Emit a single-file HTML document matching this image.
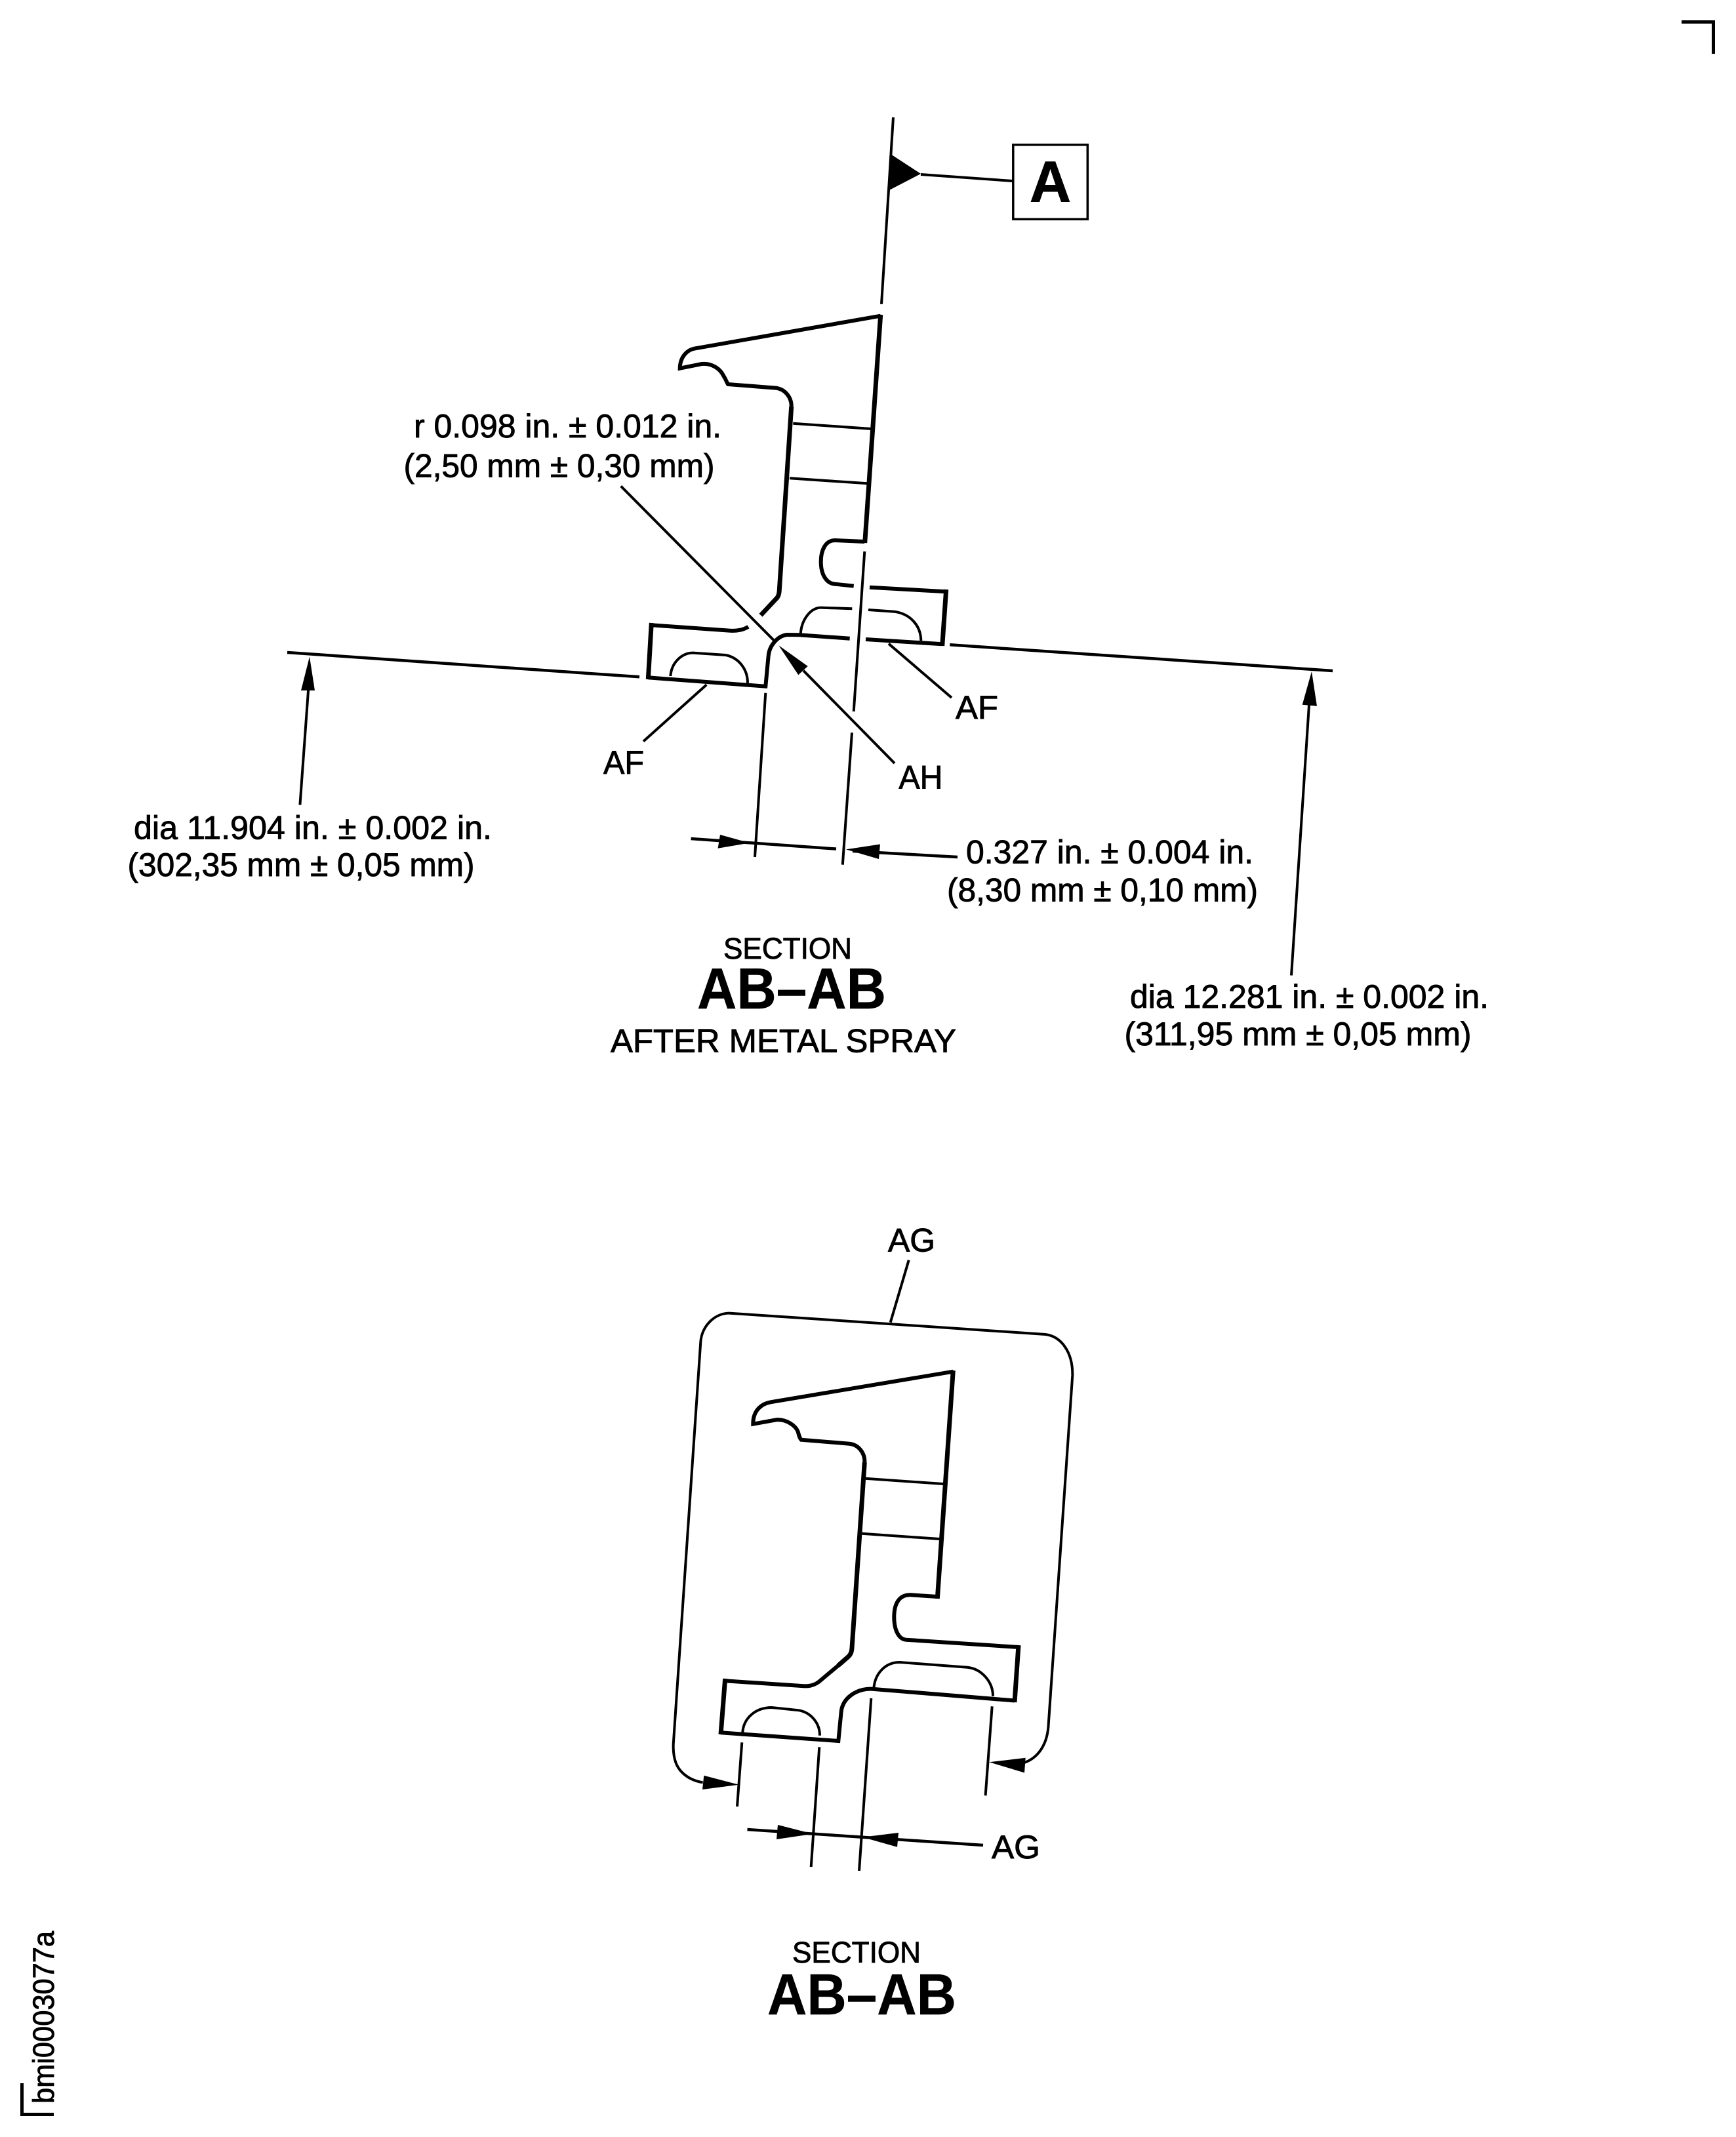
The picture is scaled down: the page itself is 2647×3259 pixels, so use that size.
<!DOCTYPE html>
<html><head><meta charset="utf-8"><style>
html,body{margin:0;padding:0;background:#fff}
svg{display:block}
text{font-family:"Liberation Sans",sans-serif;fill:#000;stroke:#000;stroke-width:.9px}
.t{font-size:50px}
.s{font-size:45px}
.b{font-size:88px;font-weight:bold;stroke-width:.5px}
.p{fill:none;stroke:#000;stroke-width:6;stroke-linejoin:miter;stroke-linecap:butt}
.k{fill:none;stroke:#000;stroke-width:7;stroke-linecap:butt}
.n{fill:none;stroke:#000;stroke-width:4;stroke-linecap:butt}
.d{fill:none;stroke:#000;stroke-width:4.500;stroke-linecap:butt}
.a{fill:#000;stroke:none}
</style></head><body>
<svg xmlns="http://www.w3.org/2000/svg" width="2647" height="3259" viewBox="0 0 2647 3259">
<rect width="2647" height="3259" fill="#fff"/>
<path d="M2564 33.500H2612.500V82" fill="none" stroke="#000" stroke-width="5"/>
<path d="M33.500 3177V3224.500H82" fill="none" stroke="#000" stroke-width="5"/>
<text transform="translate(82 3208) rotate(-90)" font-size="45" textLength="263" lengthAdjust="spacingAndGlyphs">bmi0003077a</text>

<!-- upper section -->
<path class="n" d="M1362 179L1344 463.800"/>
<path class="a" d="M1358 235L1354 291L1404 265Z"/>
<path class="n" d="M1404 266L1544 276"/>
<rect x="1544.800" y="220.800" width="113.500" height="113.500" fill="none" stroke="#000" stroke-width="3.500"/>
<text x="1570" y="307.700" font-size="88" font-weight="bold" textLength="63" lengthAdjust="spacingAndGlyphs">A</text>

<path class="p" d="M1342.700 481.700L1058.300 531.700C1049 533.500 1037 543 1036.700 561.700L1070 555C1085 553.500 1098 562 1103.300 573.300C1107 579 1108 583 1110 586L1183.300 591.700C1197 593.500 1207 606 1206.700 620"/>
<path class="k" d="M1342.700 480L1318.700 828"/>
<path class="p" d="M1318.300 826L1273.300 824C1258 824 1251.700 840 1251.700 856.700C1251.700 876 1260 890 1273.300 890.700L1301.700 893.700"/>
<path class="k" d="M1206.700 620L1188.300 900C1188 907 1186 911 1183.300 913.300L1160 938.300"/>
<path class="p" d="M1326 895.700L1442.700 902.300"/>
<path class="k" d="M1442.700 899L1436.700 985"/>
<path class="p" d="M1436.700 982.300L1320 975"/>
<path class="p" d="M1295.700 973.700L1218.300 968.300L1200 968C1185 970 1173 985 1171.700 1000L1167.300 1046.700L988.300 1033.300"/>
<path class="k" d="M988.300 1036L993.300 950"/>
<path class="p" d="M993.300 953.300L1113.300 961.700C1122 962.500 1133 961 1141 955.700"/>
<path class="n" d="M1209.300 645.700L1328.300 654M1204 729.300L1322.700 737.300"/>
<path class="n" d="M1220.700 967C1222 945 1236 926 1253.300 926.700L1299.300 928.300"/>
<path class="n" d="M1324 930L1363.300 932.700C1388 936 1404 954 1404.300 977"/>
<path class="n" d="M1022.300 1031C1024 1010 1040 995 1058.300 995.700L1106.700 999C1126 1003 1140 1020 1140 1041.700"/>
<path class="n" d="M1318.300 841L1301.700 1085M1299 1117.400L1284.800 1318.700M1167.300 1056.700L1151 1307"/>

<path class="n" d="M946.700 741.400L1181.700 978.300M1225 1022.700L1364 1164"/>
<path class="a" d="M1187.300 984.300L1231.700 1016L1217.300 1029.300Z"/>
<path class="n" d="M1077.300 1044.300L981 1130.600M1355 981.700L1451 1064"/>
<path class="d" d="M438 995L975 1032.300M1448.300 983.300L2032 1023"/>
<path class="a" d="M472 1001.500L459 1053L480 1053Z"/>
<path class="n" d="M471 1040L457.400 1227.500"/>
<path class="a" d="M2000 1024L1985.700 1074.700L2008 1076.800Z"/>
<path class="n" d="M1997 1060L1969 1487.500"/>
<path class="d" d="M1053.600 1279L1275 1294.600M1300 1298L1460 1307"/>
<path class="a" d="M1143 1285.500L1098 1273L1094.600 1293.800Z"/>
<path class="a" d="M1290 1295.400L1342 1287.500L1340 1310Z"/>

<text class="t" x="631" y="667" textLength="469" lengthAdjust="spacingAndGlyphs">r 0.098 in. ± 0.012 in.</text>
<text class="t" x="615.500" y="727.500" textLength="474" lengthAdjust="spacingAndGlyphs">(2,50 mm ± 0,30 mm)</text>
<text class="t" x="204" y="1279.600" textLength="546" lengthAdjust="spacingAndGlyphs">dia 11.904 in. ± 0.002 in.</text>
<text class="t" x="194.500" y="1336" textLength="529" lengthAdjust="spacingAndGlyphs">(302,35 mm ± 0,05 mm)</text>
<text class="t" x="920" y="1180" textLength="62" lengthAdjust="spacingAndGlyphs">AF</text>
<text class="t" x="1457" y="1096" textLength="65" lengthAdjust="spacingAndGlyphs">AF</text>
<text class="t" x="1370.500" y="1202.500" textLength="67" lengthAdjust="spacingAndGlyphs">AH</text>
<text class="t" x="1473" y="1316.600" textLength="438" lengthAdjust="spacingAndGlyphs">0.327 in. ± 0.004 in.</text>
<text class="t" x="1444" y="1374.700" textLength="474" lengthAdjust="spacingAndGlyphs">(8,30 mm ± 0,10 mm)</text>
<text class="s" x="1103" y="1461.800" textLength="196" lengthAdjust="spacingAndGlyphs">SECTION</text>
<text class="b" x="1063" y="1538" textLength="288" lengthAdjust="spacingAndGlyphs">AB–AB</text>
<text class="t" x="931" y="1604.500" textLength="527" lengthAdjust="spacingAndGlyphs">AFTER METAL SPRAY</text>
<text class="t" x="1723" y="1537" textLength="547" lengthAdjust="spacingAndGlyphs">dia 12.281 in. ± 0.002 in.</text>
<text class="t" x="1714.500" y="1594" textLength="529" lengthAdjust="spacingAndGlyphs">(311,95 mm ± 0,05 mm)</text>

<!-- lower section -->
<path class="n" d="M1071.700 2718.300C1050 2715 1035 2702 1030 2686.700C1027 2678 1026.500 2668 1026.700 2660L1068.300 2046.700C1070 2022 1090 2002 1113.300 2002.700L1594 2035C1618 2038 1636 2062 1635.300 2097.600L1598.400 2634C1596 2662 1582 2681 1562 2688"/>
<path class="a" d="M1126.700 2721.700L1073.300 2707.700L1071 2729Z"/>
<path class="a" d="M1508.300 2687.300L1563.700 2680.800L1562 2703.500Z"/>
<path class="n" d="M1385.700 1921.700L1357.700 2016.700"/>
<text class="t" x="1354" y="1908.300" textLength="72" lengthAdjust="spacingAndGlyphs">AG</text>

<path class="p" d="M1453.300 2091.700L1175 2138.300C1160 2141 1148 2152 1148.300 2171.700L1185 2165C1200 2165 1213 2174 1216.700 2183.300C1218 2188 1219 2193 1221.700 2195.700L1295 2201.700C1309 2203 1319 2216 1318.300 2230"/>
<path class="k" d="M1453.300 2090L1429.300 2438"/>
<path class="p" d="M1429.300 2435L1388.300 2432.300C1372 2432 1363.300 2444 1363.300 2466C1363.300 2487 1371 2500 1381.700 2500.700L1553 2512"/>
<path class="k" d="M1553 2509L1547 2596"/>
<path class="p" d="M1547 2593.500L1330 2575.700C1305 2575 1285 2590 1282.700 2610L1278.300 2655L1099 2642.300"/>
<path class="k" d="M1099 2645L1105.700 2560"/>
<path class="p" d="M1105.700 2563.300L1221.700 2571C1232 2572 1240 2571 1248.300 2565L1290 2530"/>
<path class="k" d="M1318.300 2230L1299 2513.300C1298.500 2521 1296 2524 1293.300 2526.700L1278 2540"/>
<path class="n" d="M1319.600 2254.700L1438 2263M1314.400 2338.800L1432.800 2347"/>
<path class="n" d="M1332.300 2575C1334 2552 1350 2535 1371.700 2535L1475 2542.700C1497 2545 1514 2565 1514 2586.700"/>
<path class="n" d="M1132.300 2641.700C1134 2620 1152 2604 1176.700 2604L1218.300 2608.300C1237 2612 1250 2628 1250 2646.700"/>
<path class="n" d="M1131.300 2657.300L1124 2755M1249.300 2664.300L1236.700 2847M1328.300 2590L1310 2853M1512.700 2602.300L1502.600 2738.300"/>
<path class="d" d="M1139.500 2790L1499 2814"/>
<path class="a" d="M1239.500 2796.700L1186 2783L1184 2805Z"/>
<path class="a" d="M1315 2801.700L1370 2795L1368 2816.700Z"/>
<text class="t" x="1512" y="2834" textLength="74" lengthAdjust="spacingAndGlyphs">AG</text>
<text class="s" x="1208" y="2993" textLength="196" lengthAdjust="spacingAndGlyphs">SECTION</text>
<text class="b" x="1170" y="3072" textLength="288" lengthAdjust="spacingAndGlyphs">AB–AB</text>
</svg>
</body></html>
